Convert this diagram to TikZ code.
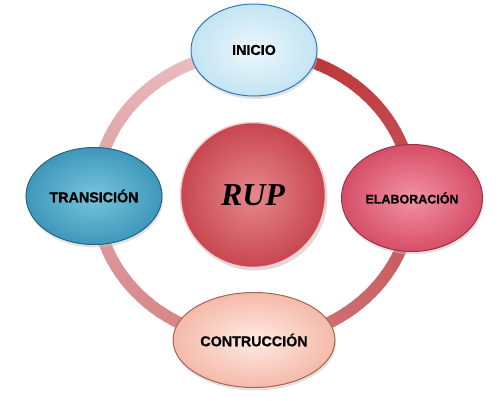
\documentclass[tikz,border=0pt]{standalone}
\usepackage{fontspec}
\setmainfont{Liberation Sans}
\newfontfamily\rupfont{Liberation Serif}
\newfontfamily\heavyfont{Liberation Sans Bold}[FakeBold=0.9]
\usetikzlibrary{shapes.geometric,shadows}
\definecolor{ringdark}{RGB}{186,46,50}
\definecolor{ringlight}{RGB}{236,198,200}
\begin{document}
\begin{tikzpicture}[x=1pt,y=-1pt,
  phase/.style={ellipse, draw, line width=1pt, font=\heavyfont\fontsize{14.3}{16}\selectfont, text=black,
     drop shadow={shadow xshift=1pt, shadow yshift=-3pt, fill=black!25, opacity=0.45}},
  ringarc/.style={line width=12pt}]
\useasboundingbox (0,0) rectangle (500,400);
% ring (colour runs clockwise from dark red right of INICIO to light pink left of it)
\coordinate (c) at (254,196);
\foreach \b in {0,3,...,357}{
  \pgfmathsetmacro{\p}{100-\b/3.6}
  \pgfmathsetmacro{\t}{90-\b}
  \colorlet{rc}{ringdark!\p!ringlight}
  \draw[ringarc, color=rc] (c) ++(\t:158pt and 144pt)
     arc[start angle=\t, delta angle=-3.6, x radius=158pt, y radius=144pt];
}
% centre
\node[circle, minimum size=145pt, inner color={rgb,255:red,230;green,136;blue,140}, outer color={rgb,255:red,200;green,70;blue,80},
  draw={rgb,255:red,242;green,205;blue,205}, line width=1.5pt,
  drop shadow={shadow xshift=2pt, shadow yshift=-3pt, fill=black!30, opacity=0.45},
  font=\rupfont\bfseries\itshape\fontsize{32}{36}\selectfont] (rup) at (253,195) {RUP};
% phases
\node[phase, minimum width=126pt, minimum height=92pt,
  inner color={rgb,255:red,236;green,247;blue,252}, outer color={rgb,255:red,196;green,228;blue,242},
  draw={rgb,255:red,50;green,120;blue,190}] (inicio) at (254,50) {INICIO};
\node[phase, minimum width=136pt, minimum height=97pt,
  inner color={rgb,255:red,120;green,196;blue,220}, outer color={rgb,255:red,62;green,152;blue,186},
  draw={rgb,255:red,40;green,100;blue,130}] (trans) at (94,196) {TRANSICIÓN};
\node[phase, minimum width=139pt, minimum height=107pt,
  font=\heavyfont\fontsize{12.5}{14}\selectfont,
  inner color={rgb,255:red,242;green,146;blue,164}, outer color={rgb,255:red,214;green,78;blue,104},
  draw={rgb,255:red,160;green,50;blue,70}] (elab) at (412,198) {ELABORACIÓN};
\node[phase, minimum width=162pt, minimum height=95pt,
  inner color={rgb,255:red,255;green,234;blue,226}, outer color={rgb,255:red,244;green,186;blue,170},
  draw={rgb,255:red,165;green,100;blue,80}] (contr) at (254,340) {CONTRUCCIÓN};
\end{tikzpicture}
\end{document}
